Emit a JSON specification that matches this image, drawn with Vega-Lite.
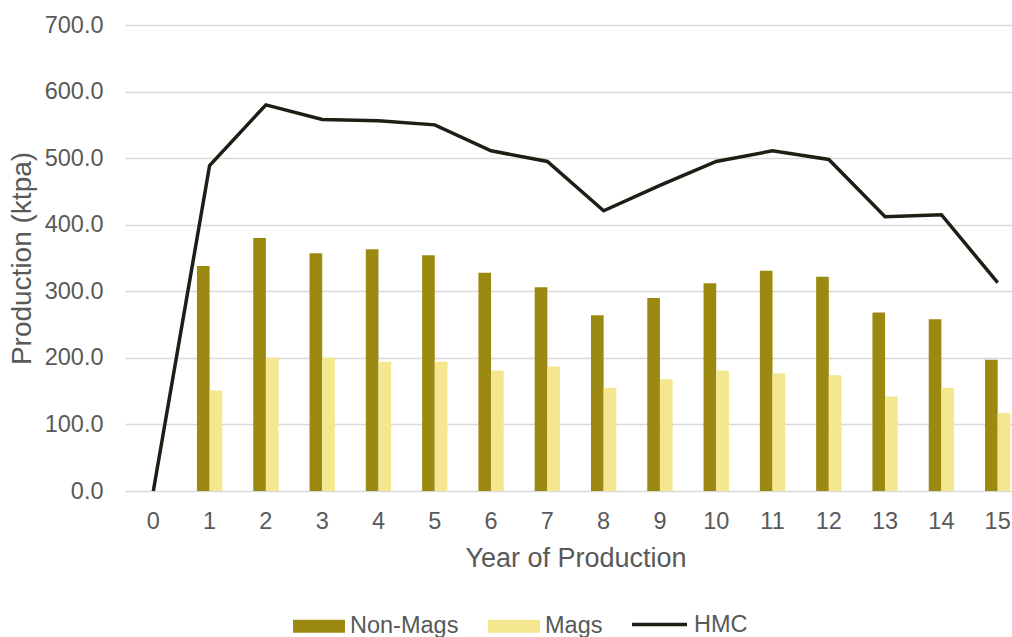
{
  "$schema": "https://vega.github.io/schema/vega-lite/v6.json",
  "autosize": {"type": "none"},
  "width": 887,
  "height": 466,
  "padding": {"left": 125, "top": 25, "right": 0, "bottom": 146},
  "background": "white",
  "config": {
    "view": {"stroke": null},
    "font": "Liberation Sans",
    "axis": {"labelColor": "#595959", "titleColor": "#595959", "labelFont": "Liberation Sans", "titleFont": "Liberation Sans", "titleFontWeight": "normal"},
    "legend": {"labelColor": "#595959", "labelFont": "Liberation Sans"}
  },
  "datasets": {
    "bars": [
      {"year": 1, "series": "Non-Mags", "value": 338}, {"year": 1, "series": "Mags", "value": 151},
      {"year": 2, "series": "Non-Mags", "value": 380}, {"year": 2, "series": "Mags", "value": 200},
      {"year": 3, "series": "Non-Mags", "value": 357}, {"year": 3, "series": "Mags", "value": 200},
      {"year": 4, "series": "Non-Mags", "value": 363}, {"year": 4, "series": "Mags", "value": 194},
      {"year": 5, "series": "Non-Mags", "value": 354}, {"year": 5, "series": "Mags", "value": 194},
      {"year": 6, "series": "Non-Mags", "value": 328}, {"year": 6, "series": "Mags", "value": 181},
      {"year": 7, "series": "Non-Mags", "value": 306}, {"year": 7, "series": "Mags", "value": 187},
      {"year": 8, "series": "Non-Mags", "value": 264}, {"year": 8, "series": "Mags", "value": 155},
      {"year": 9, "series": "Non-Mags", "value": 290}, {"year": 9, "series": "Mags", "value": 168},
      {"year": 10, "series": "Non-Mags", "value": 312}, {"year": 10, "series": "Mags", "value": 181},
      {"year": 11, "series": "Non-Mags", "value": 331}, {"year": 11, "series": "Mags", "value": 177},
      {"year": 12, "series": "Non-Mags", "value": 322}, {"year": 12, "series": "Mags", "value": 174},
      {"year": 13, "series": "Non-Mags", "value": 268}, {"year": 13, "series": "Mags", "value": 142},
      {"year": 14, "series": "Non-Mags", "value": 258}, {"year": 14, "series": "Mags", "value": 155},
      {"year": 15, "series": "Non-Mags", "value": 197}, {"year": 15, "series": "Mags", "value": 117}
    ],
    "line": [
      {"year": 0, "hmc": 0}, {"year": 1, "hmc": 489}, {"year": 2, "hmc": 580}, {"year": 3, "hmc": 558},
      {"year": 4, "hmc": 556}, {"year": 5, "hmc": 550}, {"year": 6, "hmc": 511}, {"year": 7, "hmc": 495},
      {"year": 8, "hmc": 421}, {"year": 9, "hmc": 459}, {"year": 10, "hmc": 495}, {"year": 11, "hmc": 511},
      {"year": 12, "hmc": 498}, {"year": 13, "hmc": 412}, {"year": 14, "hmc": 415}, {"year": 15, "hmc": 313}
    ]
  },
  "encoding": {
    "x": {
      "field": "year", "type": "ordinal",
      "scale": {"domain": [0,1,2,3,4,5,6,7,8,9,10,11,12,13,14,15], "range": [0, 901], "paddingInner": 0.55, "paddingOuter": 0.278},
      "axis": {"title": "Year of Production", "labelAngle": 0, "ticks": false, "domain": false, "labelFontSize": 23.5, "labelPadding": 18, "titleFontSize": 27, "titlePadding": 13}
    }
  },
  "layer": [
    {
      "data": {"name": "bars"},
      "mark": {"type": "bar"},
      "encoding": {
        "xOffset": {"field": "series", "type": "nominal", "sort": ["Non-Mags", "Mags"], "scale": {"domain": ["Non-Mags", "Mags"], "paddingInner": 0, "paddingOuter": 0}},
        "y": {
          "field": "value", "type": "quantitative",
          "scale": {"domain": [0, 700], "nice": false},
          "axis": {"title": "Production (ktpa)", "values": [0,100,200,300,400,500,600,700], "format": ".1f", "ticks": false, "domain": false, "gridColor": "#D9D9D9", "gridWidth": 1.5, "labelFontSize": 23.5, "labelPadding": 22, "titleFontSize": 28, "titlePadding": 8}
        },
        "color": {
          "field": "series", "type": "nominal",
          "scale": {"domain": ["Non-Mags", "Mags"], "range": ["#9C8912", "#F5E690"]},
          "legend": {"title": null, "orient": "none", "direction": "horizontal", "legendX": 168, "legendY": 575, "symbolType": "M-1,-0.25H1V0.25H-1Z", "symbolSize": 2704, "symbolStrokeWidth": 0, "symbolOpacity": 1, "labelFontSize": 23.5, "labelOffset": 5, "columnPadding": 29}
        }
      }
    },
    {
      "data": {"name": "line"},
      "mark": {"type": "line", "strokeWidth": 3.5},
      "encoding": {
        "y": {"field": "hmc", "type": "quantitative"},
        "stroke": {
          "datum": "HMC", "type": "nominal",
          "scale": {"domain": ["HMC"], "range": ["#1F1E14"]},
          "legend": {"title": null, "orient": "none", "legendX": 505, "legendY": 570, "symbolType": "stroke", "symbolSize": 3025, "symbolStrokeWidth": 3.5, "labelFontSize": 23.5, "labelOffset": 5}
        }
      }
    }
  ]
}
